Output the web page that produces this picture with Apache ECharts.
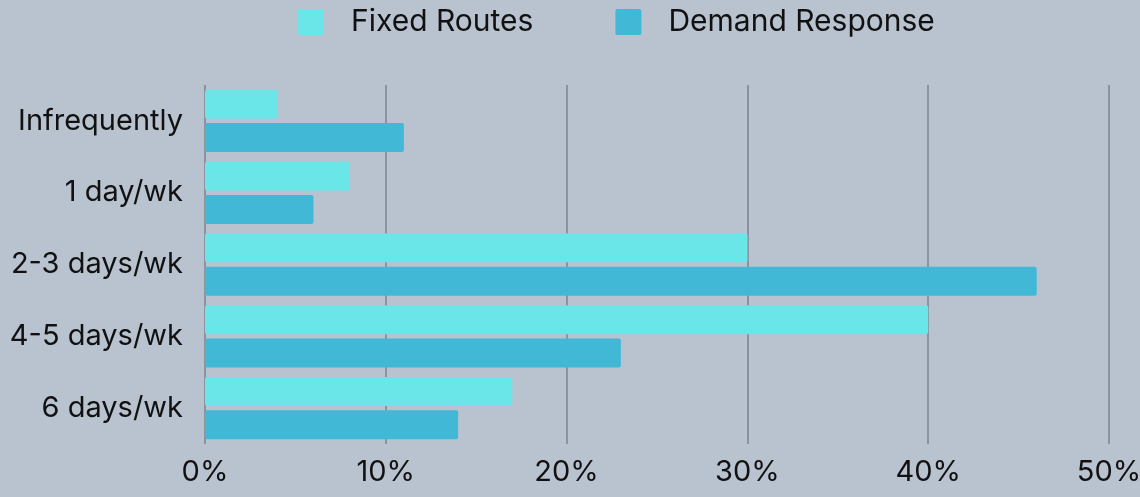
<!DOCTYPE html>
<html>
<head>
<meta charset="utf-8">
<script src="https://cdn.jsdelivr.net/npm/echarts@6/dist/echarts.min.js"></script>
<style>
  html, body { margin: 0; padding: 0; background: #b9c3cf; }
  #chart { width: 1140px; height: 497px; }
</style>
</head>
<body>
<div id="chart"></div>
<script>
var categories = ['Infrequently', '1 day/wk', '2-3 days/wk', '4-5 days/wk', '6 days/wk'];
var fixedRoutes = [4, 8, 30, 40, 17];
var demandResponse = [11, 6, 46, 23, 14];
var xTicks = [0, 10, 20, 30, 40, 50];

var font = 'Inter';
var chart = echarts.init(document.getElementById('chart'));

var opt = {
  backgroundColor: '#b9c3cf',
  animation: false,
  legend: {
    top: 2,
    left: 293,
    itemWidth: 26,
    itemHeight: 26,
    itemGap: 82,
    icon: 'path://M2,0 L24,0 Q26,0 26,2 L26,24 Q26,26 24,26 L2,26 Q0,26 0,24 L0,2 Q0,0 2,0 Z',
    textStyle: {
      color: '#111',
      fontSize: 30,
      fontFamily: font,
      padding: [0, 0, 0, 22]
    },
    data: ['Fixed Routes', 'Demand Response']
  },
  grid: {
    left: 205,
    right: 31,
    top: 85,
    bottom: 53,
    outerBoundsMode: 'none'
  },
  xAxis: {
    type: 'value',
    min: xTicks[0],
    max: xTicks[xTicks.length - 1],
    interval: 10,
    axisLine: { show: false },
    axisTick: { show: false },
    splitLine: {
      show: true,
      lineStyle: { color: '#8c939c', width: 2 }
    },
    axisLabel: {
      color: '#111',
      fontSize: 29,
      fontFamily: font,
      margin: 14,
      formatter: function (v) {
        return v + '%';
      }
    }
  },
  yAxis: {
    type: 'category',
    inverse: true,
    data: categories,
    axisLine: { show: false },
    axisTick: { show: false },
    axisLabel: {
      color: '#111',
      fontSize: 29,
      fontFamily: font,
      margin: 22
    }
  },
  series: [{
    name: 'Fixed Routes',
    type: 'bar',
    data: fixedRoutes,
    barWidth: 29,
    barGap: '15%',
    itemStyle: {
      color: '#6ae5e8',
      borderRadius: 2
    }
  }, {
    name: 'Demand Response',
    type: 'bar',
    data: demandResponse,
    barWidth: 29,
    itemStyle: {
      color: '#42b8d7',
      borderRadius: 2
    }
  }]
};

chart.setOption(opt);
</script>
</body>
</html>
